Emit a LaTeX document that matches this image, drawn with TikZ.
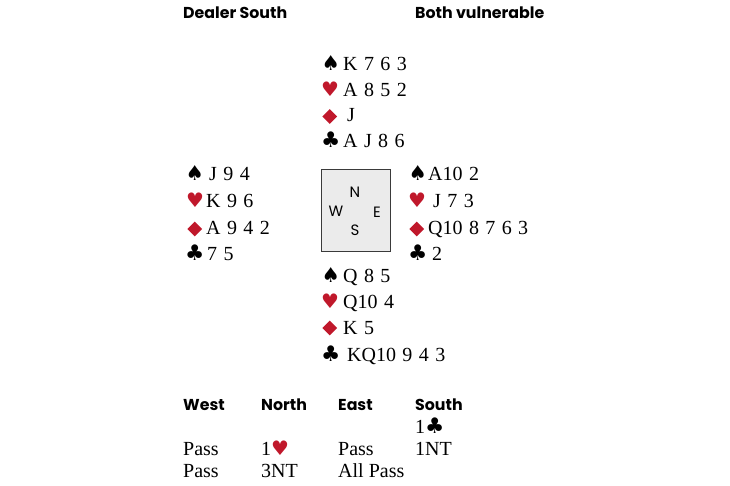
\documentclass[tikz,border=0pt]{standalone}
\usepackage{fontspec}
\usetikzlibrary{shapes.geometric}
\setmainfont{Liberation Serif}
\newfontfamily\headfont{Poppins}
\newfontfamily\suitfont{DejaVu Sans}
\newfontfamily\compfont{Poppins}
\definecolor{suitred}{HTML}{C0182B}
\definecolor{boxfill}{HTML}{EBEBEB}
\definecolor{boxline}{HTML}{3A3A3A}
\newcommand\cardspacing{\spaceskip=0.32em plus 0pt minus 0pt\relax}
\newcommand\cardfont{\fontsize{20}{22}\selectfont\cardspacing}
\tikzset{
  card/.style={anchor=base west, inner sep=0pt, font=\cardfont},
  suitsym/.style={anchor=base west, inner sep=0pt},
  spadesym/.style={suitsym, text=black, font=\suitfont\fontsize{20.5}{20}\selectfont},
  heartsym/.style={suitsym, text=suitred, font=\suitfont\fontsize{20}{20}\selectfont},
  clubsym/.style={suitsym, text=black, font=\suitfont\fontsize{21.5}{22}\selectfont},
  diamsym/.style={diamond, fill=suitred, inner sep=0pt, minimum width=15pt, minimum height=15pt, anchor=west},
  head/.style={anchor=base west, inner sep=0pt, font=\headfont\bfseries\fontsize{15.8}{17}\selectfont},
  bid/.style={anchor=base west, inner sep=0pt, font=\fontsize{20}{22}\selectfont},
  compass/.style={inner sep=0pt, font=\compfont\fontsize{15}{15}\selectfont},
  tablebox/.style={draw=boxline, line width=1pt, fill=boxfill, minimum width=69pt, minimum height=81pt, inner sep=0pt}
}
\begin{document}
\begin{tikzpicture}[x=1pt,y=-1pt]
\useasboundingbox (0,0) rectangle (730,486);
% headings
\node[head] (dealer) at (183,19) {Dealer South};
\node[head] (vul) at (415,19) {Both vulnerable};
% North
\node[spadesym] (ns) at (321.5,71) {♠};
\node[card] (nsc) at (343,71) {K 7 6 3};
\node[heartsym] (nh) at (321,96.5) {♥};
\node[card] (nhc) at (343,96.5) {A 8 5 2};
\node[diamsym] (nd) at (322,116.5) {};
\node[card] (ndc) at (347,122) {J};
\node[clubsym] (nc) at (321,147.5) {♣};
\node[card] (ncc) at (343,147.5) {A J 8 6};
% West
\node[spadesym] (ws) at (185.5,181) {♠};
\node[card] (wsc) at (209,181) {J 9 4};
\node[heartsym] (wh) at (186,207.5) {♥};
\node[card] (whc) at (206,207.5) {K 9 6};
\node[diamsym] (wd) at (187,229) {};
\node[card] (wdc) at (206,234) {A 9 4 2};
\node[clubsym] (wc) at (185,260) {♣};
\node[card] (wcc) at (207,260) {7 5};
% East
\node[spadesym] (es) at (408.5,181) {♠};
\node[card] (esc) at (428,181) {A10 2};
\node[heartsym] (eh) at (408,207.5) {♥};
\node[card] (ehc) at (433,207.5) {J 7 3};
\node[diamsym] (ed) at (409,229) {};
\node[card] (edc) at (428,234) {Q10 8 7 6 3};
\node[clubsym] (ec) at (408,260) {♣};
\node[card] (ecc) at (432,260) {2};
% table box
\node[tablebox] (tbl) at (355.5,210.5) {};
\node[compass] (cn) at (355,192) {N};
\node[compass] (cw) at (336,211) {W};
\node[compass] (ce) at (377,212) {E};
\node[compass] (cs) at (355,230) {S};
% South
\node[spadesym] (ss) at (321.5,282) {♠};
\node[card] (ssc) at (343,282) {Q 8 5};
\node[heartsym] (sh) at (321,308) {♥};
\node[card] (shc) at (343,308) {Q10 4};
\node[diamsym] (sd) at (322,328) {};
\node[card] (sdc) at (343,334) {K 5};
\node[clubsym] (sc) at (321,361) {♣};
\node[card] (scc) at (347,361) {KQ10 9 4 3};
% Bidding
\node[head] (bw) at (183,410) {West};
\node[head] (bn) at (261,410) {North};
\node[head] (be) at (338,410) {East};
\node[head] (bs) at (415,410) {South};
\node[bid] (b1) at (415,433) {1{\suitfont\fontsize{21.5}{22}\selectfont♣}};
\node[bid] (b2) at (183,455) {Pass};
\node[bid] (b3) at (261,455) {1{\suitfont\fontsize{20}{20}\selectfont\color{suitred}♥}};
\node[bid] (b4) at (338,455) {Pass};
\node[bid] (b5) at (415,455) {1NT};
\node[bid] (b6) at (183,477) {Pass};
\node[bid] (b7) at (261,477) {3NT};
\node[bid] (b8) at (338,477) {All Pass};
\end{tikzpicture}
\end{document}
